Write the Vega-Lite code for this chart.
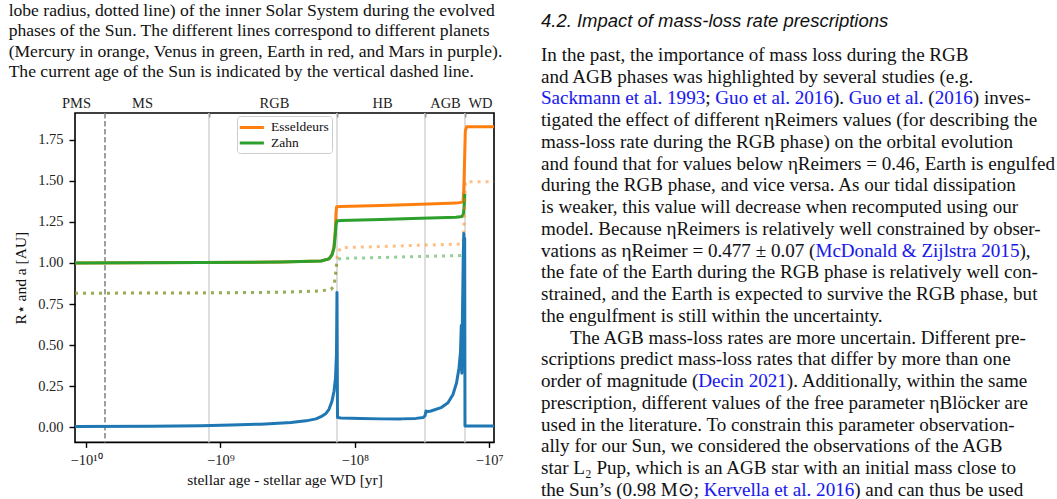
{
  "$schema": "https://vega.github.io/schema/vega-lite/v6.json",
  "padding": {"left": 7, "top": 1, "right": 0, "bottom": 0},
  "background": "white",
  "bounds": "flush",
  "spacing": 47,
  "resolve": {
    "scale": {"color": "independent", "stroke": "independent"},
    "legend": {"color": "independent", "stroke": "independent"}
  },
  "config": {"view": {"stroke": null}, "font": "Liberation Serif"},
  "datasets": {
    "phaseEdges": [
      {"age": -1.216e9}, {"age": -1.357e8}, {"age": -3.004e7}, {"age": -1.514e7}
    ],
    "sunAge": [{"age": -7.223e9}],
    "curves": [
      {"age": -1.2074e10, "au": 1.000, "model": "Esseldeurs", "quantity": "orbit"},
      {"age": -1.394e9, "au": 1.003, "model": "Esseldeurs", "quantity": "orbit"},
      {"age": -3.541e8, "au": 1.006, "model": "Esseldeurs", "quantity": "orbit"},
      {"age": -1.785e8, "au": 1.012, "model": "Esseldeurs", "quantity": "orbit"},
      {"age": -1.556e8, "au": 1.025, "model": "Esseldeurs", "quantity": "orbit"},
      {"age": -1.478e8, "au": 1.05, "model": "Esseldeurs", "quantity": "orbit"},
      {"age": -1.428e8, "au": 1.10, "model": "Esseldeurs", "quantity": "orbit"},
      {"age": -1.397e8, "au": 1.20, "model": "Esseldeurs", "quantity": "orbit"},
      {"age": -1.380e8, "au": 1.30, "model": "Esseldeurs", "quantity": "orbit"},
      {"age": -1.366e8, "au": 1.342, "model": "Esseldeurs", "quantity": "orbit"},
      {"age": -1.267e8, "au": 1.344, "model": "Esseldeurs", "quantity": "orbit"},
      {"age": -6.384e7, "au": 1.350, "model": "Esseldeurs", "quantity": "orbit"},
      {"age": -3.217e7, "au": 1.357, "model": "Esseldeurs", "quantity": "orbit"},
      {"age": -1.766e7, "au": 1.364, "model": "Esseldeurs", "quantity": "orbit"},
      {"age": -1.567e7, "au": 1.370, "model": "Esseldeurs", "quantity": "orbit"},
      {"age": -1.545e7, "au": 1.45, "model": "Esseldeurs", "quantity": "orbit"},
      {"age": -1.527e7, "au": 1.60, "model": "Esseldeurs", "quantity": "orbit"},
      {"age": -1.506e7, "au": 1.80, "model": "Esseldeurs", "quantity": "orbit"},
      {"age": -1.475e7, "au": 1.828, "model": "Esseldeurs", "quantity": "orbit"},
      {"age": -9.21e6, "au": 1.828, "model": "Esseldeurs", "quantity": "orbit"},

      {"age": -1.2074e10, "au": 1.000, "model": "Zahn", "quantity": "orbit"},
      {"age": -1.394e9, "au": 1.003, "model": "Zahn", "quantity": "orbit"},
      {"age": -3.541e8, "au": 1.006, "model": "Zahn", "quantity": "orbit"},
      {"age": -1.785e8, "au": 1.012, "model": "Zahn", "quantity": "orbit"},
      {"age": -1.556e8, "au": 1.025, "model": "Zahn", "quantity": "orbit"},
      {"age": -1.478e8, "au": 1.05, "model": "Zahn", "quantity": "orbit"},
      {"age": -1.428e8, "au": 1.09, "model": "Zahn", "quantity": "orbit"},
      {"age": -1.397e8, "au": 1.17, "model": "Zahn", "quantity": "orbit"},
      {"age": -1.380e8, "au": 1.23, "model": "Zahn", "quantity": "orbit"},
      {"age": -1.364e8, "au": 1.255, "model": "Zahn", "quantity": "orbit"},
      {"age": -1.267e8, "au": 1.258, "model": "Zahn", "quantity": "orbit"},
      {"age": -6.384e7, "au": 1.265, "model": "Zahn", "quantity": "orbit"},
      {"age": -3.217e7, "au": 1.272, "model": "Zahn", "quantity": "orbit"},
      {"age": -1.766e7, "au": 1.278, "model": "Zahn", "quantity": "orbit"},
      {"age": -1.594e7, "au": 1.283, "model": "Zahn", "quantity": "orbit"},
      {"age": -1.553e7, "au": 1.30, "model": "Zahn", "quantity": "orbit"},
      {"age": -1.532e7, "au": 1.36, "model": "Zahn", "quantity": "orbit"},
      {"age": -1.519e7, "au": 1.42, "model": "Zahn", "quantity": "orbit"},

      {"age": -1.2074e10, "au": 0.816, "model": "Esseldeurs", "quantity": "lobe"},
      {"age": -1.394e9, "au": 0.818, "model": "Esseldeurs", "quantity": "lobe"},
      {"age": -3.541e8, "au": 0.822, "model": "Esseldeurs", "quantity": "lobe"},
      {"age": -1.785e8, "au": 0.830, "model": "Esseldeurs", "quantity": "lobe"},
      {"age": -1.503e8, "au": 0.840, "model": "Esseldeurs", "quantity": "lobe"},
      {"age": -1.428e8, "au": 0.86, "model": "Esseldeurs", "quantity": "lobe"},
      {"age": -1.392e8, "au": 0.93, "model": "Esseldeurs", "quantity": "lobe"},
      {"age": -1.368e8, "au": 0.99, "model": "Esseldeurs", "quantity": "lobe"},
      {"age": -1.345e8, "au": 1.06, "model": "Esseldeurs", "quantity": "lobe"},
      {"age": -1.267e8, "au": 1.093, "model": "Esseldeurs", "quantity": "lobe"},
      {"age": -6.384e7, "au": 1.100, "model": "Esseldeurs", "quantity": "lobe"},
      {"age": -3.217e7, "au": 1.108, "model": "Esseldeurs", "quantity": "lobe"},
      {"age": -1.621e7, "au": 1.115, "model": "Esseldeurs", "quantity": "lobe"},
      {"age": -1.567e7, "au": 1.12, "model": "Esseldeurs", "quantity": "lobe"},
      {"age": -1.527e7, "au": 1.30, "model": "Esseldeurs", "quantity": "lobe"},
      {"age": -1.501e7, "au": 1.494, "model": "Esseldeurs", "quantity": "lobe"},
      {"age": -9.21e6, "au": 1.494, "model": "Esseldeurs", "quantity": "lobe"},

      {"age": -1.2074e10, "au": 0.816, "model": "Zahn", "quantity": "lobe"},
      {"age": -1.394e9, "au": 0.818, "model": "Zahn", "quantity": "lobe"},
      {"age": -3.541e8, "au": 0.822, "model": "Zahn", "quantity": "lobe"},
      {"age": -1.785e8, "au": 0.830, "model": "Zahn", "quantity": "lobe"},
      {"age": -1.503e8, "au": 0.840, "model": "Zahn", "quantity": "lobe"},
      {"age": -1.428e8, "au": 0.86, "model": "Zahn", "quantity": "lobe"},
      {"age": -1.392e8, "au": 0.93, "model": "Zahn", "quantity": "lobe"},
      {"age": -1.368e8, "au": 0.99, "model": "Zahn", "quantity": "lobe"},
      {"age": -1.345e8, "au": 1.02, "model": "Zahn", "quantity": "lobe"},
      {"age": -1.267e8, "au": 1.028, "model": "Zahn", "quantity": "lobe"},
      {"age": -6.384e7, "au": 1.033, "model": "Zahn", "quantity": "lobe"},
      {"age": -3.217e7, "au": 1.040, "model": "Zahn", "quantity": "lobe"},
      {"age": -1.621e7, "au": 1.045, "model": "Zahn", "quantity": "lobe"},
      {"age": -1.567e7, "au": 1.05, "model": "Zahn", "quantity": "lobe"},
      {"age": -1.527e7, "au": 1.10, "model": "Zahn", "quantity": "lobe"},

      {"age": -1.2074e10, "au": 0.005, "model": "Sun", "quantity": "radius"},
      {"age": -3.284e9, "au": 0.007, "model": "Sun", "quantity": "radius"},
      {"age": -1.394e9, "au": 0.010, "model": "Sun", "quantity": "radius"},
      {"age": -8.340e8, "au": 0.014, "model": "Sun", "quantity": "radius"},
      {"age": -4.988e8, "au": 0.020, "model": "Sun", "quantity": "radius"},
      {"age": -2.984e8, "au": 0.030, "model": "Sun", "quantity": "radius"},
      {"age": -2.308e8, "au": 0.040, "model": "Sun", "quantity": "radius"},
      {"age": -1.944e8, "au": 0.052, "model": "Sun", "quantity": "radius"},
      {"age": -1.785e8, "au": 0.065, "model": "Sun", "quantity": "radius"},
      {"age": -1.638e8, "au": 0.085, "model": "Sun", "quantity": "radius"},
      {"age": -1.556e8, "au": 0.11, "model": "Sun", "quantity": "radius"},
      {"age": -1.478e8, "au": 0.16, "model": "Sun", "quantity": "radius"},
      {"age": -1.428e8, "au": 0.22, "model": "Sun", "quantity": "radius"},
      {"age": -1.392e8, "au": 0.30, "model": "Sun", "quantity": "radius"},
      {"age": -1.368e8, "au": 0.45, "model": "Sun", "quantity": "radius"},
      {"age": -1.357e8, "au": 0.82, "model": "Sun", "quantity": "radius"},
      {"age": -1.345e8, "au": 0.06, "model": "Sun", "quantity": "radius"},
      {"age": -1.267e8, "au": 0.058, "model": "Sun", "quantity": "radius"},
      {"age": -8.993e7, "au": 0.054, "model": "Sun", "quantity": "radius"},
      {"age": -6.384e7, "au": 0.052, "model": "Sun", "quantity": "radius"},
      {"age": -4.532e7, "au": 0.052, "model": "Sun", "quantity": "radius"},
      {"age": -3.504e7, "au": 0.055, "model": "Sun", "quantity": "radius"},
      {"age": -3.109e7, "au": 0.060, "model": "Sun", "quantity": "radius"},
      {"age": -3.004e7, "au": 0.07, "model": "Sun", "quantity": "radius"},
      {"age": -2.953e7, "au": 0.10, "model": "Sun", "quantity": "radius"},
      {"age": -2.903e7, "au": 0.095, "model": "Sun", "quantity": "radius"},
      {"age": -2.710e7, "au": 0.10, "model": "Sun", "quantity": "radius"},
      {"age": -2.284e7, "au": 0.12, "model": "Sun", "quantity": "radius"},
      {"age": -2.026e7, "au": 0.15, "model": "Sun", "quantity": "radius"},
      {"age": -1.860e7, "au": 0.20, "model": "Sun", "quantity": "radius"},
      {"age": -1.751e7, "au": 0.27, "model": "Sun", "quantity": "radius"},
      {"age": -1.678e7, "au": 0.36, "model": "Sun", "quantity": "radius"},
      {"age": -1.635e7, "au": 0.46, "model": "Sun", "quantity": "radius"},
      {"age": -1.613e7, "au": 0.62, "model": "Sun", "quantity": "radius"},
      {"age": -1.599e7, "au": 0.33, "model": "Sun", "quantity": "radius"},
      {"age": -1.580e7, "au": 0.70, "model": "Sun", "quantity": "radius"},
      {"age": -1.559e7, "au": 1.05, "model": "Sun", "quantity": "radius"},
      {"age": -1.545e7, "au": 1.18, "model": "Sun", "quantity": "radius"},
      {"age": -1.532e7, "au": 0.90, "model": "Sun", "quantity": "radius"},
      {"age": -1.522e7, "au": 1.15, "model": "Sun", "quantity": "radius"},
      {"age": -1.514e7, "au": 0.008, "model": "Sun", "quantity": "radius"},
      {"age": -9.21e6, "au": 0.008, "model": "Sun", "quantity": "radius"}
    ],
    "body": [
      {"line": 0, "indent": 0, "kind": "text", "text": "In the past, the importance of mass loss during the RGB"},
      {"line": 1, "indent": 0, "kind": "text", "text": "and AGB phases was highlighted by several studies (e.g."},
      {"line": 2, "indent": 0, "kind": "text", "text": "Sackmann et al. 1993; Guo et al. 2016). Guo et al. (2016) inves-"},
      {"line": 2, "indent": 0, "kind": "mask", "text": "Sackmann et al. 1993; Guo et al. 2016). Guo et al. (2016"},
      {"line": 2, "indent": 0, "kind": "link", "text": "Sackmann et al. 1993; Guo et al. 2016). Guo et al. (2016"},
      {"line": 2, "indent": 0, "kind": "mask", "text": "Sackmann et al. 1993; Guo et al. 2016). Guo et al. ("},
      {"line": 2, "indent": 0, "kind": "text", "text": "Sackmann et al. 1993; Guo et al. 2016). Guo et al. ("},
      {"line": 2, "indent": 0, "kind": "mask", "text": "Sackmann et al. 1993; Guo et al. 2016). Guo et al."},
      {"line": 2, "indent": 0, "kind": "link", "text": "Sackmann et al. 1993; Guo et al. 2016). Guo et al."},
      {"line": 2, "indent": 0, "kind": "mask", "text": "Sackmann et al. 1993; Guo et al. 2016). "},
      {"line": 2, "indent": 0, "kind": "text", "text": "Sackmann et al. 1993; Guo et al. 2016). "},
      {"line": 2, "indent": 0, "kind": "mask", "text": "Sackmann et al. 1993; Guo et al. 2016"},
      {"line": 2, "indent": 0, "kind": "link", "text": "Sackmann et al. 1993; Guo et al. 2016"},
      {"line": 2, "indent": 0, "kind": "mask", "text": "Sackmann et al. 1993; "},
      {"line": 2, "indent": 0, "kind": "text", "text": "Sackmann et al. 1993; "},
      {"line": 2, "indent": 0, "kind": "mask", "text": "Sackmann et al. 1993"},
      {"line": 2, "indent": 0, "kind": "link", "text": "Sackmann et al. 1993"},
      {"line": 3, "indent": 0, "kind": "text", "text": "tigated the effect of different ηReimers values (for describing the"},
      {"line": 4, "indent": 0, "kind": "text", "text": "mass-loss rate during the RGB phase) on the orbital evolution"},
      {"line": 5, "indent": 0, "kind": "text", "text": "and found that for values below ηReimers = 0.46, Earth is engulfed"},
      {"line": 6, "indent": 0, "kind": "text", "text": "during the RGB phase, and vice versa. As our tidal dissipation"},
      {"line": 7, "indent": 0, "kind": "text", "text": "is weaker, this value will decrease when recomputed using our"},
      {"line": 8, "indent": 0, "kind": "text", "text": "model. Because ηReimers is relatively well constrained by obser-"},
      {"line": 9, "indent": 0, "kind": "text", "text": "vations as ηReimer = 0.477 ± 0.07 (McDonald & Zijlstra 2015),"},
      {"line": 9, "indent": 0, "kind": "mask", "text": "vations as ηReimer = 0.477 ± 0.07 (McDonald & Zijlstra 2015"},
      {"line": 9, "indent": 0, "kind": "link", "text": "vations as ηReimer = 0.477 ± 0.07 (McDonald & Zijlstra 2015"},
      {"line": 9, "indent": 0, "kind": "mask", "text": "vations as ηReimer = 0.477 ± 0.07 ("},
      {"line": 9, "indent": 0, "kind": "text", "text": "vations as ηReimer = 0.477 ± 0.07 ("},
      {"line": 10, "indent": 0, "kind": "text", "text": "the fate of the Earth during the RGB phase is relatively well con-"},
      {"line": 11, "indent": 0, "kind": "text", "text": "strained, and the Earth is expected to survive the RGB phase, but"},
      {"line": 12, "indent": 0, "kind": "text", "text": "the engulfment is still within the uncertainty."},
      {"line": 13, "indent": 1, "kind": "text", "text": "The AGB mass-loss rates are more uncertain. Different pre-"},
      {"line": 14, "indent": 0, "kind": "text", "text": "scriptions predict mass-loss rates that differ by more than one"},
      {"line": 15, "indent": 0, "kind": "text", "text": "order of magnitude (Decin 2021). Additionally, within the same"},
      {"line": 15, "indent": 0, "kind": "mask", "text": "order of magnitude (Decin 2021"},
      {"line": 15, "indent": 0, "kind": "link", "text": "order of magnitude (Decin 2021"},
      {"line": 15, "indent": 0, "kind": "mask", "text": "order of magnitude ("},
      {"line": 15, "indent": 0, "kind": "text", "text": "order of magnitude ("},
      {"line": 16, "indent": 0, "kind": "text", "text": "prescription, different values of the free parameter ηBlöcker are"},
      {"line": 17, "indent": 0, "kind": "text", "text": "used in the literature. To constrain this parameter observation-"},
      {"line": 18, "indent": 0, "kind": "text", "text": "ally for our Sun, we considered the observations of the AGB"},
      {"line": 19, "indent": 0, "kind": "text", "text": "star L₂ Pup, which is an AGB star with an initial mass close to"},
      {"line": 20, "indent": 0, "kind": "text", "text": "the Sun’s (0.98 M⊙; Kervella et al. 2016) and can thus be used"},
      {"line": 20, "indent": 0, "kind": "mask", "text": "the Sun’s (0.98 M⊙; Kervella et al. 2016"},
      {"line": 20, "indent": 0, "kind": "link", "text": "the Sun’s (0.98 M⊙; Kervella et al. 2016"},
      {"line": 20, "indent": 0, "kind": "mask", "text": "the Sun’s (0.98 M⊙; "},
      {"line": 20, "indent": 0, "kind": "text", "text": "the Sun’s (0.98 M⊙; "}
    ]
  },
  "hconcat": [
    {
      "width": 419,
      "height": 329.4,
      "view": {"stroke": "#000000", "strokeWidth": 1.6},
      "title": {
        "text": [
          "lobe radius, dotted line) of the inner Solar System during the evolved",
          "phases of the Sun. The different lines correspond to different planets",
          "(Mercury in orange, Venus in green, Earth in red, and Mars in purple).",
          "The current age of the Sun is indicated by the vertical dashed line."
        ],
        "anchor": "start",
        "frame": "bounds",
        "dx": -5,
        "offset": 15,
        "font": "Liberation Serif",
        "fontSize": 17.6,
        "fontWeight": "normal",
        "lineHeight": 20.3,
        "color": "#111111"
      },
      "resolve": {"axis": {"x": "independent"}},
      "layer": [
        {
          "data": {"name": "phaseEdges"},
          "mark": {"type": "rule", "color": "#d3d3d3", "strokeWidth": 1.5},
          "encoding": {
            "x": {
              "field": "age", "type": "quantitative",
              "scale": {"type": "log", "domain": [-1.2074e10, -9.21e6], "nice": false},
              "axis": {
                "orient": "top", "values": [-1.216e9, -1.357e8, -3.004e7, -1.514e7],
                "labels": false, "ticks": true, "tickSize": -4, "tickColor": "#000000", "tickWidth": 1.4,
                "domain": false, "grid": false, "title": null
              }
            }
          }
        },
        {
          "data": {"name": "sunAge"},
          "mark": {"type": "rule", "color": "#808080", "strokeWidth": 1.5, "strokeDash": [5.5, 2.5]},
          "encoding": {
            "x": {
              "field": "age", "type": "quantitative",
              "scale": {"type": "log", "domain": [-1.2074e10, -9.21e6], "nice": false},
              "axis": {
                "orient": "top",
                "values": [-1.187e10, -3.831e9, -3.992e8, -6.275e7, -2.133e7, -1.171e7],
                "labelExpr": "datum.value == -1.187e10 ? 'PMS' : datum.value == -3.831e9 ? 'MS' : datum.value == -3.992e8 ? 'RGB' : datum.value == -6.275e7 ? 'HB' : datum.value == -2.133e7 ? 'AGB' : 'WD'",
                "ticks": false, "tickSize": 0, "labelPadding": 2.5,
                "labelFont": "Liberation Serif", "labelFontSize": 14.5, "labelColor": "#222222",
                "labelFlush": false, "labelOverlap": false, "labelBound": false,
                "domain": false, "grid": false, "title": null
              }
            }
          }
        },
        {
          "data": {"name": "curves"},
          "transform": [{"filter": "datum.quantity == 'orbit'"}],
          "mark": {"type": "line", "strokeWidth": 3, "strokeJoin": "round"},
          "encoding": {
            "x": {
              "field": "age", "type": "quantitative",
              "scale": {"type": "log", "domain": [-1.2074e10, -9.21e6], "nice": false},
              "axis": {
                "orient": "bottom", "values": [-1e10, -1e9, -1e8, -1e7],
                "labelExpr": "datum.value == -1e10 ? '−10¹⁰' : datum.value == -1e9 ? '−10⁹' : datum.value == -1e8 ? '−10⁸' : '−10⁷'",
                "title": "stellar age - stellar age WD [yr]",
                "titleFont": "Liberation Serif", "titleFontSize": 15.5, "titleFontWeight": "normal", "titleColor": "#111111",
                "titlePadding": 5.5,
                "labelFont": "Liberation Serif", "labelFontSize": 14.5, "labelColor": "#222222", "labelPadding": 6,
                "labelFlush": false, "labelOverlap": false,
                "tickSize": 5, "tickWidth": 1.4, "tickColor": "#000000",
                "domain": false, "grid": false
              }
            },
            "y": {
              "field": "au", "type": "quantitative",
              "scale": {"domain": [-0.091, 1.912], "nice": false, "zero": false},
              "axis": {
                "orient": "left",
                "values": [0, 0.25, 0.5, 0.75, 1, 1.25, 1.5, 1.75],
                "format": ".2f",
                "title": "R⋆ and a [AU]",
                "titleFont": "Liberation Serif", "titleFontSize": 15.5, "titleFontWeight": "normal", "titleColor": "#111111",
                "titlePadding": 9,
                "labelFont": "Liberation Serif", "labelFontSize": 14.5, "labelColor": "#222222", "labelPadding": 6,
                "tickSize": 6, "tickWidth": 1.4, "tickColor": "#000000",
                "domain": false, "grid": false
              }
            },
            "color": {
              "field": "model", "type": "nominal",
              "scale": {"domain": ["Esseldeurs", "Zahn"], "range": ["#ff7f0e", "#2ca02c"]},
              "legend": {
                "orient": "none", "legendX": 162, "legendY": 3, "title": null,
                "symbolType": "M-1.25,0H2.2", "symbolSize": 196, "symbolStrokeWidth": 3, "symbolOpacity": 1,
                "labelFont": "Liberation Serif", "labelFontSize": 13.5, "labelColor": "#111111",
                "labelOffset": 14, "padding": 3, "rowPadding": 0.5,
                "fillColor": "white", "strokeColor": "#cccccc", "cornerRadius": 3
              }
            }
          }
        },
        {
          "data": {"name": "curves"},
          "transform": [{"filter": "datum.quantity == 'lobe'"}],
          "mark": {"type": "line", "strokeWidth": 3, "strokeDash": [3, 5], "opacity": 0.5, "strokeCap": "butt"},
          "encoding": {
            "x": {
              "field": "age", "type": "quantitative",
              "scale": {"type": "log", "domain": [-1.2074e10, -9.21e6], "nice": false},
              "axis": null
            },
            "y": {
              "field": "au", "type": "quantitative",
              "scale": {"domain": [-0.091, 1.912], "nice": false, "zero": false}
            },
            "stroke": {
              "field": "model", "type": "nominal",
              "scale": {"domain": ["Esseldeurs", "Zahn"], "range": ["#ff7f0e", "#2ca02c"]},
              "legend": null
            }
          }
        },
        {
          "data": {"name": "curves"},
          "transform": [{"filter": "datum.quantity == 'radius'"}],
          "mark": {"type": "line", "strokeWidth": 3, "strokeJoin": "round", "color": "#1f77b4"},
          "encoding": {
            "x": {
              "field": "age", "type": "quantitative",
              "scale": {"type": "log", "domain": [-1.2074e10, -9.21e6], "nice": false},
              "axis": null
            },
            "y": {
              "field": "au", "type": "quantitative",
              "scale": {"domain": [-0.091, 1.912], "nice": false, "zero": false}
            }
          }
        }
      ]
    },
    {
      "width": 506,
      "height": 329.4,
      "title": {
        "text": "4.2. Impact of mass-loss rate prescriptions",
        "anchor": "start",
        "frame": "group",
        "font": "Liberation Sans",
        "fontStyle": "italic",
        "fontSize": 18.5,
        "fontWeight": "normal",
        "color": "#111111",
        "offset": 18,
        "dy": 22,
        "baseline": "bottom"
      },
      "data": {"name": "body"},
      "mark": {"type": "text", "align": "left", "baseline": "middle", "font": "Liberation Serif", "fontSize": 19.1, "strokeWidth": 1},
      "encoding": {
        "x": {"field": "indent", "type": "quantitative", "scale": {"domain": [0, 1], "range": [0, 29]}, "axis": null},
        "y": {"field": "line", "type": "quantitative", "scale": {"domain": [0, 20], "range": [-58, 377]}, "axis": null},
        "color": {
          "field": "kind", "type": "nominal",
          "scale": {"domain": ["text", "link", "mask"], "range": ["#111111", "#1717ee", "#ffffff"]},
          "legend": null
        },
        "stroke": {
          "field": "kind", "type": "nominal",
          "scale": {"domain": ["text", "link", "mask"], "range": ["rgba(0,0,0,0)", "rgba(0,0,0,0)", "#ffffff"]},
          "legend": null
        },
        "text": {"field": "text"}
      }
    }
  ]
}
